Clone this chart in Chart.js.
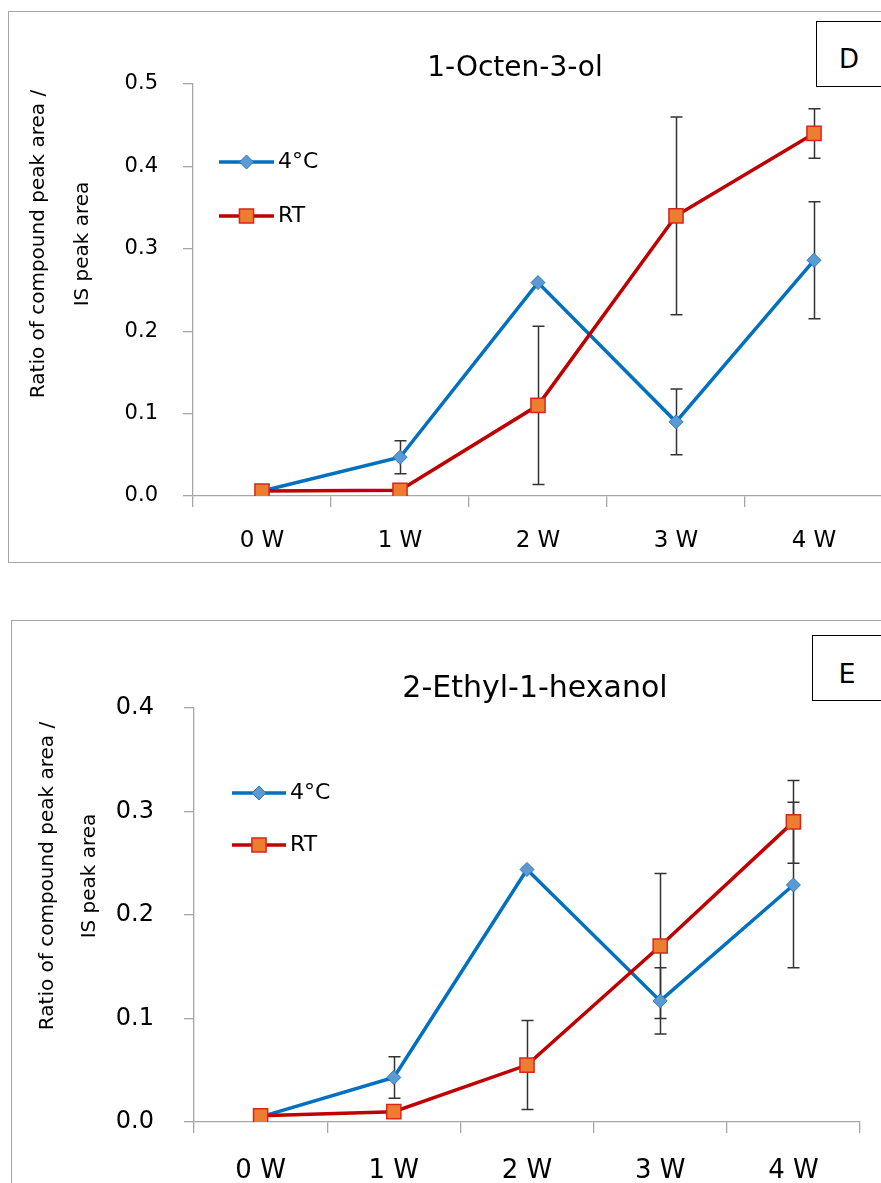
<!DOCTYPE html>
<html>
<head>
<meta charset="utf-8">
<script src="https://cdn.jsdelivr.net/npm/chart.js@4.4.1/dist/chart.umd.min.js"></script>
<style>
  html, body { margin: 0; padding: 0; background: #fff; }
  body { width: 881px; height: 1183px; overflow: hidden; position: relative; font-family: 'DejaVu Sans', sans-serif; }
  .frame { position: absolute; border: 1px solid #a6a6a6; box-sizing: border-box; }
  .tag { position: absolute; border: 1px solid #000; box-sizing: border-box; background: #fff;
         display: flex; align-items: center; justify-content: center; color: #000; }
  canvas { position: absolute; left: 0; }
</style>
</head>
<body>
<div class="frame" style="left:8px;top:11px;width:900px;height:552px"></div>
<div class="frame" style="left:11px;top:620px;width:900px;height:600px"></div>
<canvas id="chartD" width="900" height="570" style="top:0"></canvas>
<canvas id="chartE" width="881" height="583" style="top:600px"></canvas>
<div class="tag" style="left:816px;top:21px;width:66px;height:66px;font-size:26px;padding-top:9px">D</div>
<div class="tag" style="left:812px;top:635px;width:70px;height:66px;font-size:27px;padding-top:10px">E</div>

<script>
// x categories (storage weeks)
const weeks = ['0 W', '1 W', '2 W', '3 W', '4 W'];
const seriesNames = ['4°C', 'RT'];
const yTitle = ['Ratio of compound peak area /', 'IS peak area'];

// D: 1-Octen-3-ol
const octenCold = [0.006, 0.047, 0.259, 0.090, 0.286];
const octenColdErr = [0, 0.020, 0, 0.040, 0.071];
const octenRT = [0.006, 0.007, 0.110, 0.340, 0.440];
const octenRTErr = [0, 0, 0.096, 0.120, 0.030];

// E: 2-Ethyl-1-hexanol
const hexCold = [0.005, 0.043, 0.244, 0.117, 0.229];
const hexColdErr = [0, 0.020, 0, 0.032, 0.080];
const hexRT = [0.006, 0.010, 0.055, 0.170, 0.290];
const hexRTErr = [0, 0, 0.043, 0.070, 0.040];

const axisGray = '#a6a6a6';
const fontFamily = "'DejaVu Sans', sans-serif";

// vertical error bars, drawn under the markers
const errorBars = {
  id: 'errorBars',
  beforeDatasetsDraw(chart, args, opts) {
    const ctx = chart.ctx, y = chart.scales.y;
    ctx.save();
    ctx.strokeStyle = opts.color;
    ctx.lineWidth = opts.width;
    chart.data.datasets.forEach((ds, i) => {
      const meta = chart.getDatasetMeta(i);
      ds.errors.forEach((e, j) => {
        if (!e) return;
        const x = Math.round(meta.data[j].x) + 0.5;
        const top = y.getPixelForValue(ds.data[j] + e);
        const bot = y.getPixelForValue(ds.data[j] - e);
        ctx.beginPath();
        ctx.moveTo(x, top); ctx.lineTo(x, bot);
        ctx.moveTo(x - opts.cap, top); ctx.lineTo(x + opts.cap, top);
        ctx.moveTo(x - opts.cap, bot); ctx.lineTo(x + opts.cap, bot);
        ctx.stroke();
      });
    });
    ctx.restore();
  }
};

// chart title, two-line y title and the in-plot legend
const panelText = {
  id: 'panelText',
  afterDraw(chart, args, o) {
    const ctx = chart.ctx;
    ctx.save();
    ctx.fillStyle = '#000';
    ctx.textBaseline = 'middle';
    ctx.textAlign = 'center';
    ctx.font = o.titleFont;
    ctx.fillText(o.title, o.titleX, o.titleY);

    ctx.font = o.yTitleFont;
    yTitle.forEach((line, i) => {
      ctx.save();
      ctx.translate(o.yTitleX[i], o.yTitleY);
      ctx.rotate(-Math.PI / 2);
      ctx.fillText(line, 0, 0);
      ctx.restore();
    });

    ctx.font = o.legendFont;
    ctx.textAlign = 'left';
    chart.data.datasets.forEach((ds, i) => {
      const ly = o.legendY[i];
      ctx.strokeStyle = ds.borderColor;
      ctx.lineWidth = ds.borderWidth;
      ctx.beginPath();
      ctx.moveTo(o.legendX[0], ly);
      ctx.lineTo(o.legendX[1], ly);
      ctx.stroke();
      ctx.fillStyle = ds.pointBackgroundColor;
      ctx.strokeStyle = ds.pointBorderColor;
      ctx.lineWidth = ds.pointBorderWidth;
      Chart.helpers.drawPoint(ctx, {
        pointStyle: ds.pointStyle, radius: ds.pointRadius,
        borderWidth: ds.pointBorderWidth, rotation: 0
      }, (o.legendX[0] + o.legendX[1]) / 2, ly);
      ctx.fillStyle = '#000';
      ctx.fillText(ds.label, o.legendX[2], ly);
    });
    ctx.restore();
  }
};

function makeChart(id, cold, coldErr, rt, rtErr, c) {
  return new Chart(document.getElementById(id), {
    type: 'line',
    data: {
      labels: weeks,
      datasets: [
        {
          label: seriesNames[0], data: cold, errors: coldErr,
          borderColor: '#0070c0', borderWidth: 3.5, tension: 0,
          pointStyle: 'rectRot', pointRadius: 7,
          pointBackgroundColor: '#5b9bd5', pointBorderColor: '#2e75b6', pointBorderWidth: 1,
          order: 1
        },
        {
          label: seriesNames[1], data: rt, errors: rtErr,
          borderColor: '#c00000', borderWidth: 3.5, tension: 0,
          pointStyle: 'rect', pointRadius: 10,
          pointBackgroundColor: '#ed7d31', pointBorderColor: '#d9261c', pointBorderWidth: 1.5,
          order: 0
        }
      ]
    },
    plugins: [errorBars, panelText],
    options: {
      responsive: false,
      animation: false,
      devicePixelRatio: 1,
      layout: { padding: { left: 0, top: c.top, right: c.right, bottom: 0 } },
      plugins: {
        legend: { display: false },
        title: { display: false },
        tooltip: { enabled: false },
        errorBars: { color: '#333', width: 1.5, cap: 6 },
        panelText: c.text
      },
      scales: {
        x: {
          offset: true,
          grid: { offset: true, drawOnChartArea: false, tickLength: 11, color: axisGray, lineWidth: 1.3 },
          border: { color: axisGray, width: 1.3 },
          ticks: { color: '#000', maxRotation: 0, padding: c.xPad, font: { family: fontFamily, size: c.xFont } },
          afterFit: s => { s.height = c.xHeight; }
        },
        y: {
          min: 0, max: c.max,
          grid: { drawOnChartArea: false, tickLength: 10, color: axisGray, lineWidth: 1.3 },
          border: { color: axisGray, width: 1.3 },
          ticks: { stepSize: 0.1, color: '#000', padding: c.yPad,
                   font: { family: fontFamily, size: c.yFont },
                   callback: v => v.toFixed(1) },
          afterFit: s => { s.width = c.yWidth; }
        }
      }
    }
  });
}

makeChart('chartD', octenCold, octenColdErr, octenRT, octenRTErr, {
  top: 84, right: 17, xHeight: 74, yWidth: 193, max: 0.5,
  xFont: 23, yFont: 21, xPad: 20, yPad: 25,
  text: {
    title: '1-Octen-3-ol', titleX: 515, titleY: 69, titleFont: `28px ${fontFamily}`,
    yTitleX: [39, 83], yTitleY: 244, yTitleFont: `20px ${fontFamily}`,
    legendX: [219, 274, 278], legendY: [162, 216], legendFont: `22px ${fontFamily}`
  }
});

makeChart('chartE', hexCold, hexColdErr, hexRT, hexRTErr, {
  top: 108, right: 21, xHeight: 61, yWidth: 194, max: 0.4,
  xFont: 26, yFont: 24, xPad: 23, yPad: 30,
  text: {
    title: '2-Ethyl-1-hexanol', titleX: 535, titleY: 89, titleFont: `30px ${fontFamily}`,
    yTitleX: [48, 90], yTitleY: 276, yTitleFont: `20px ${fontFamily}`,
    legendX: [232, 286, 290], legendY: [193, 245], legendFont: `22px ${fontFamily}`
  }
});
</script>
</body>
</html>
